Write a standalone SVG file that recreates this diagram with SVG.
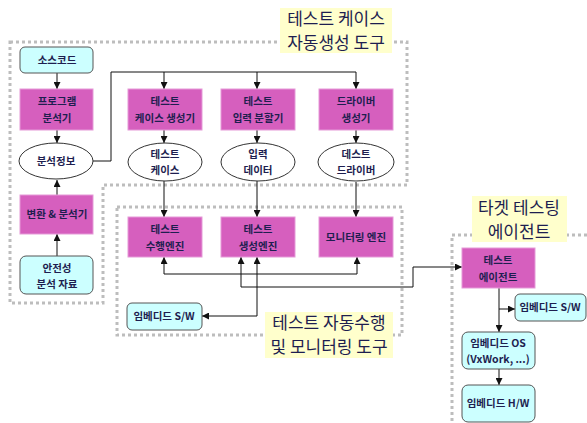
<svg xmlns="http://www.w3.org/2000/svg" width="587" height="423" viewBox="0 0 587 423">
<defs>
<marker id="ah" viewBox="0 0 8 8" refX="8" refY="4" markerWidth="7" markerHeight="7" markerUnits="userSpaceOnUse" orient="auto">
<path d="M0,0 L8,4 L0,8 Z" fill="#111"/>
</marker>
</defs>
<style>
.dot{fill:none;stroke:#BDBDBD;stroke-width:3;stroke-dasharray:3 3}
.ttl{fill:#FFFFCC}
.tt{font-family:"Noto Sans CJK KR","Noto Sans",sans-serif;font-size:17px;fill:#1E1E50;text-anchor:middle}
.mg{fill:#D65FBE;stroke:#E59AD8;stroke-width:1}
.cy{fill:#CCFFFF;stroke:#555;stroke-width:1}
.el{fill:#fff;stroke:#333;stroke-width:1}
.t{font-family:"Noto Sans CJK KR","Noto Sans",sans-serif;font-size:10.5px;font-weight:bold;fill:#1E1E50;text-anchor:middle}
.c{fill:none;stroke:#111;stroke-width:1}
.a{marker-end:url(#ah)}
</style>
<g id="frames">
<path class="dot" d="M10,42 H407 V185 H103 V303 H10 Z"/>
<rect class="dot" x="117" y="207" width="285" height="128"/>
<path class="dot" d="M587,235 H452 V423"/>
</g>
<g id="titles">
<rect class="ttl" x="280" y="8" width="112" height="45"/>
<text class="tt" x="336" y="25">테스트 케이스</text>
<text class="tt" x="336" y="49">자동생성 도구</text>
<rect class="ttl" x="265" y="312" width="128" height="46"/>
<text class="tt" x="329" y="329">테스트 자동수행</text>
<text class="tt" x="329" y="353">및 모니터링 도구</text>
<rect class="ttl" x="472" y="196" width="95" height="46"/>
<text class="tt" x="519" y="214">타겟 테스팅</text>
<text class="tt" x="519" y="238">에이전트</text>
</g>
<g id="connectors">
<path class="c a" d="M57,73 V89"/>
<path class="c a" d="M57,130 V143"/>
<path class="c a" d="M57,195 V180"/>
<path class="c a" d="M57,256 V234"/>
<path class="c" d="M93,161 H111 V72 H356"/>
<path class="c a" d="M164,72 V89"/>
<path class="c a" d="M257,72 V89"/>
<path class="c a" d="M356,72 V89"/>
<path class="c a" d="M164,130 V143"/>
<path class="c a" d="M257,130 V143"/>
<path class="c a" d="M356,130 V143"/>
<path class="c a" d="M164,181 V217"/>
<path class="c a" d="M257,181 V217"/>
<path class="c a" d="M356,182 V217"/>
<path class="c" d="M164,274 H357"/>
<path class="c a" d="M164,274 V257"/>
<path class="c a" d="M357,274 V257"/>
<path class="c a" d="M241,287 V257"/>
<path class="c a" d="M241,287 H413 V267 H462"/>
<path class="c a" d="M257,316 V257"/>
<path class="c a" d="M257,316 H202"/>
<path class="c a" d="M499,288 V332"/>
<path class="c a" d="M499,309 H515"/>
<path class="c a" d="M499,369 V385"/>
</g>
<g id="n-source"><rect class="cy" x="20" y="47" width="73" height="26" rx="5"/><text class="t" x="57" y="64">소스코드</text></g>
<g id="n-analyzer"><rect class="mg" x="20" y="89" width="73" height="41"/><text class="t" x="57" y="105">프로그램</text><text class="t" x="57" y="122">분석기</text></g>
<g id="n-info"><ellipse class="el" cx="56" cy="161" rx="37" ry="18"/><text class="t" x="56" y="165">분석정보</text></g>
<g id="n-convert"><rect class="mg" x="20" y="195" width="73" height="39"/><text class="t" x="57" y="218">변환 &amp; 분석기</text></g>
<g id="n-safety"><rect class="cy" x="20" y="256" width="73" height="38" rx="6"/><text class="t" x="57" y="272">안전성</text><text class="t" x="57" y="288">분석 자료</text></g>
<g id="n-tcgen"><rect class="mg" x="128" y="89" width="74" height="41"/><text class="t" x="165" y="105">테스트</text><text class="t" x="165" y="122">케이스 생성기</text></g>
<g id="n-split"><rect class="mg" x="221" y="89" width="74" height="41"/><text class="t" x="258" y="105">테스트</text><text class="t" x="258" y="122">입력 분할기</text></g>
<g id="n-drvgen"><rect class="mg" x="319" y="89" width="74" height="41"/><text class="t" x="356" y="105">드라이버</text><text class="t" x="356" y="122">생성기</text></g>
<g id="n-tc"><ellipse class="el" cx="165" cy="162" rx="37" ry="19"/><text class="t" x="165" y="158">테스트</text><text class="t" x="165" y="174">케이스</text></g>
<g id="n-data"><ellipse class="el" cx="258" cy="162" rx="37" ry="19"/><text class="t" x="258" y="158">입력</text><text class="t" x="258" y="174">데이터</text></g>
<g id="n-drv"><ellipse class="el" cx="356" cy="162" rx="38" ry="19"/><text class="t" x="356" y="158">데스트</text><text class="t" x="356" y="174">드라이버</text></g>
<g id="n-exec"><rect class="mg" x="128" y="217" width="74" height="40"/><text class="t" x="165" y="233">테스트</text><text class="t" x="165" y="250">수행엔진</text></g>
<g id="n-gen"><rect class="mg" x="221" y="217" width="74" height="40"/><text class="t" x="258" y="233">테스트</text><text class="t" x="258" y="250">생성엔진</text></g>
<g id="n-mon"><rect class="mg" x="319" y="217" width="74" height="40"/><text class="t" x="356" y="241">모니터링 엔진</text></g>
<g id="n-sw1"><rect class="cy" x="127" y="303" width="75" height="27" rx="5"/><text class="t" x="164" y="320">임베디드 S/W</text></g>
<g id="n-agent"><rect class="mg" x="462" y="248" width="73" height="40"/><text class="t" x="498" y="264">테스트</text><text class="t" x="498" y="281">에이전트</text></g>
<g id="n-sw2"><rect class="cy" x="515" y="294" width="71" height="27" rx="5"/><text class="t" x="550" y="311">임베디드 S/W</text></g>
<g id="n-os"><rect class="cy" x="462" y="332" width="73" height="37" rx="6"/><text class="t" x="498" y="347">임베디드 OS</text><text class="t" x="498" y="363">(VxWork, ...)</text></g>
<g id="n-hw"><rect class="cy" x="462" y="385" width="73" height="37" rx="6"/><text class="t" x="498" y="407">임베디드 H/W</text></g>
</svg>
